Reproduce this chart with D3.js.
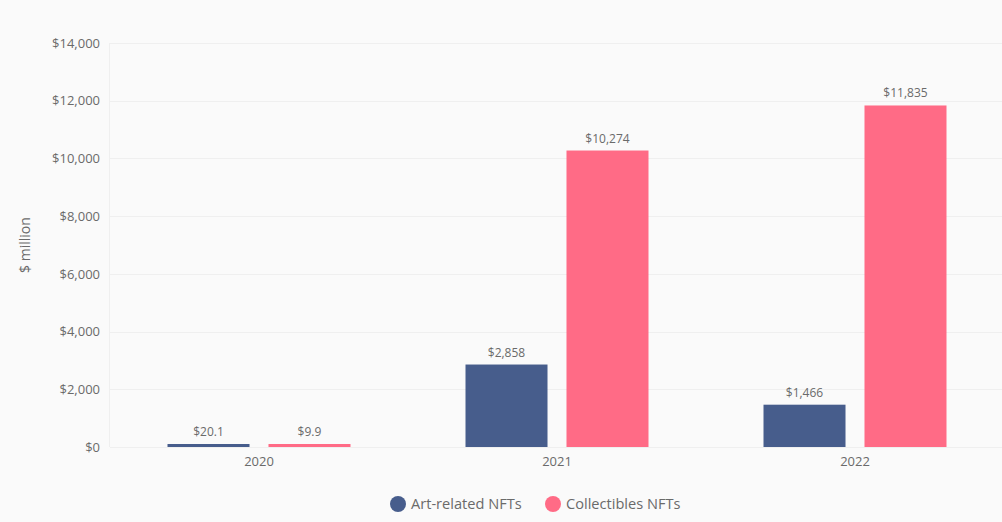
<!DOCTYPE html>
<html><head><meta charset="utf-8">
<script src="https://cdn.jsdelivr.net/npm/d3@7"></script>
<style>
html,body{margin:0;padding:0;background:#fafafa;}
svg{display:block;font-family:"Open Sans","Noto Sans",sans-serif;}
</style></head>
<body><svg id="c" width="1002" height="522"></svg>
<script>
const categories = ["2020","2021","2022"];
const seriesNames = ["Art-related NFTs","Collectibles NFTs"];
const artValues = [20.1, 2858, 1466];
const collectiblesValues = [9.9, 10274, 11835];
const valueLabels = [["$20.1","$2,858","$1,466"],["$9.9","$10,274","$11,835"]];
const yTicks = [0,2000,4000,6000,8000,10000,12000,14000];
const colors = ["#475d8c","#ff6b86"];

const svg = d3.select("#c");
const W=1002,H=522;
const m={left:110,right:-2,top:43,bottom:75};
const y=d3.scaleLinear().domain([0,14000]).range([H-m.bottom,m.top]);
const x=d3.scaleBand().domain(categories).range([m.left,W-m.right]).paddingInner(0).paddingOuter(0);
const inner=d3.scaleBand().domain([0,1]).range([0,183]).paddingInner(0.188);

const series=[artValues,collectiblesValues];

// grid
const g=svg.append("g");
g.selectAll("line.grid").data(yTicks).join("line")
 .attr("x1",m.left).attr("x2",W).attr("y1",d=>Math.round(y(d))+0.5).attr("y2",d=>Math.round(y(d))+0.5)
 .attr("stroke","#efefef").attr("stroke-width",1);
g.append("line").attr("x1",m.left-0.5).attr("x2",m.left-0.5).attr("y1",y(14000)).attr("y2",y(0))
 .attr("stroke","#efefef");

// y axis
const yAxis=d3.axisLeft(y).tickValues(yTicks).tickSize(0).tickPadding(10)
 .tickFormat(d=>"$"+d3.format(",")(d));
const ya=svg.append("g").attr("transform",`translate(${m.left},0)`).call(yAxis);
ya.select(".domain").remove();
ya.selectAll("text").attr("fill","#6a6a6a").attr("font-size",13).attr("font-family","Open Sans, sans-serif");

// x axis
const xAxis=d3.axisBottom(x).tickSize(0).tickPadding(10);
const xa=svg.append("g").attr("transform",`translate(0,${y(0)})`).call(xAxis);
xa.select(".domain").remove();
xa.selectAll("text").attr("fill","#6a6a6a").attr("font-size",13).attr("font-family","Open Sans, sans-serif");

// bars
series.forEach((vals,si)=>{
  const off=x.bandwidth()/2-91.5;
  svg.append("g").selectAll("rect").data(vals).join("rect")
   .attr("x",(d,i)=>x(categories[i])+off+inner(si))
   .attr("width",inner.bandwidth())
   .attr("y",d=>Math.min(y(d),y(0)-3))
   .attr("height",d=>Math.max(y(0)-y(d),3))
   .attr("fill",colors[si]);
  svg.append("g").selectAll("text").data(vals).join("text")
   .attr("x",(d,i)=>x(categories[i])+off+inner(si)+inner.bandwidth()/2)
   .attr("y",d=>Math.min(y(d),y(0)-3)-8)
   .attr("text-anchor","middle").attr("font-size",12).attr("fill","#6a6a6a")
   .text((d,i)=>valueLabels[si][i]);
});

// y label
svg.append("text").attr("transform",`translate(30,${(y(0)+y(14000))/2}) rotate(-90)`)
 .attr("text-anchor","middle").attr("font-size",14).attr("fill","#6a6a6a").text("$ million");

// legend
const leg=[{x:398},{x:553}];
seriesNames.forEach((n,i)=>{
  svg.append("circle").attr("cx",leg[i].x).attr("cy",504).attr("r",8).attr("fill",colors[i]);
  svg.append("text").attr("x",leg[i].x+13).attr("y",509).attr("font-size",14.6).attr("fill","#6a6a6a").text(n);
});
</script></body></html>
